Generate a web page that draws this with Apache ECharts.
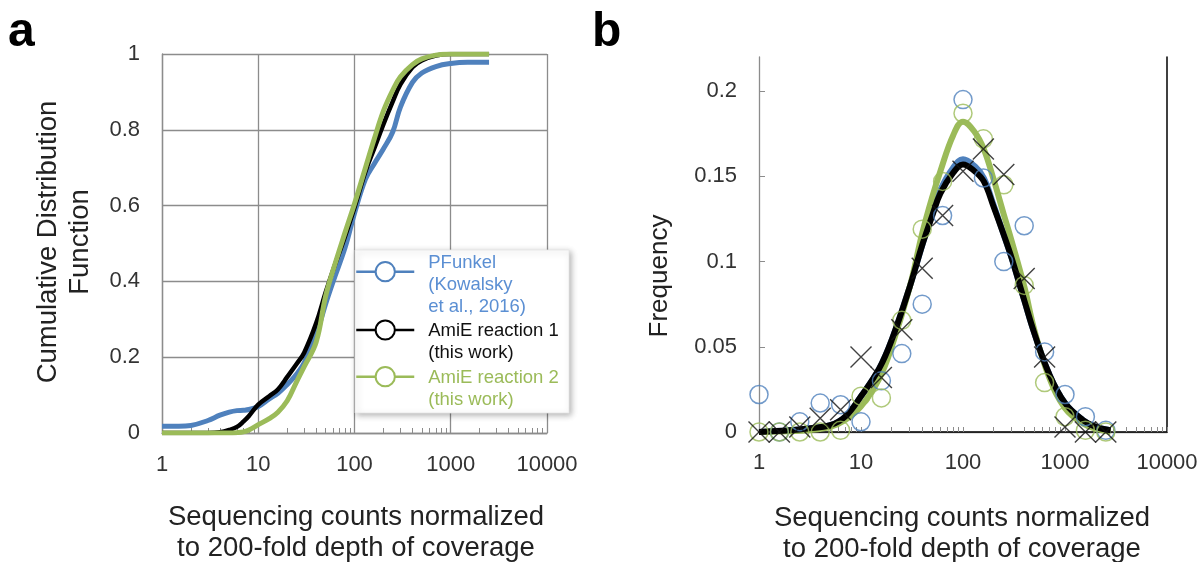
<!DOCTYPE html>
<html><head><meta charset="utf-8">
<script src="https://cdn.jsdelivr.net/npm/echarts@6/dist/echarts.min.js"></script>
<style>html,body{margin:0;padding:0;background:#fff}#c{width:1201px;height:562px}</style>
</head><body><div id="c"></div>
<script>
const FONT = "'Liberation Sans', Arial, Helvetica, sans-serif";

// Panel a: cumulative distribution curves
const cdfX        = [1, 1.5, 2, 3, 4, 5, 6, 7, 8, 10, 13, 16, 20, 25, 30, 40, 50, 60, 80, 100, 130, 160, 200, 250, 300, 400, 500, 700, 1000, 1500, 2500];
const cdfPFunkel  = [0.018, 0.018, 0.02, 0.033, 0.047, 0.055, 0.059, 0.06, 0.062, 0.07, 0.09, 0.105, 0.128, 0.155, 0.185, 0.26, 0.34, 0.4, 0.49, 0.58, 0.67, 0.71, 0.75, 0.795, 0.86, 0.925, 0.95, 0.967, 0.975, 0.978, 0.978];
const cdfAmiE1    = [0, 0, 0, 0, 0.002, 0.008, 0.016, 0.03, 0.045, 0.075, 0.097, 0.115, 0.148, 0.182, 0.212, 0.29, 0.37, 0.43, 0.52, 0.595, 0.69, 0.75, 0.815, 0.875, 0.92, 0.965, 0.983, 0.996, 1, 1, 1];
const cdfAmiE2    = [0, 0, 0, 0, 0, 0, 0.001, 0.003, 0.008, 0.022, 0.038, 0.055, 0.085, 0.135, 0.175, 0.24, 0.36, 0.43, 0.53, 0.605, 0.70, 0.775, 0.85, 0.905, 0.94, 0.972, 0.987, 0.997, 1, 1, 1];

// Panel b: frequency histograms (markers) and fitted curves
const binX        = [1, 1.585, 2.512, 3.981, 6.31, 10, 15.85, 25.12, 39.81, 63.1, 100, 158.5, 251.2, 398.1, 631, 1000, 1585, 2512];
const freqPFunkel = [0.022, 0, 0.006, 0.017, 0.016, 0.006, 0.030, 0.046, 0.075, 0.127, 0.195, 0.149, 0.100, 0.121, 0.047, 0.022, 0.009, 0.001];
const freqAmiE1   = [0, 0, 0.003, 0.008, 0.013, 0.044, 0.032, 0.060, 0.096, 0.127, 0.153, 0.166, 0.151, 0.090, 0.044, 0.003, 0, 0];
const freqAmiE2   = [0, 0, 0, 0, 0.001, 0.021, 0.020, 0.0655, 0.119, 0.147, 0.187, 0.172, 0.145, 0.086, 0.029, 0.009, 0.001, 0];

const fitX        = [1, 2, 3, 5, 7, 10, 15, 20, 30, 40, 50, 60, 80, 100, 130, 160, 200, 250, 300, 400, 500, 700, 1000, 1500, 2000, 2800];
const fitPFunkel  = [0, 0.001, 0.002, 0.004, 0.009, 0.021, 0.037, 0.054, 0.085, 0.11, 0.128, 0.142, 0.155, 0.160, 0.156, 0.149, 0.133, 0.116, 0.102, 0.077, 0.058, 0.034, 0.017, 0.007, 0.003, 0.001];
const fitAmiE1    = [0, 0.001, 0.002, 0.004, 0.009, 0.021, 0.037, 0.054, 0.085, 0.11, 0.127, 0.140, 0.152, 0.157, 0.153, 0.147, 0.132, 0.116, 0.102, 0.077, 0.058, 0.034, 0.017, 0.007, 0.003, 0.001];
const fitAmiE2    = [0, 0.0005, 0.001, 0.003, 0.007, 0.015, 0.031, 0.050, 0.085, 0.117, 0.138, 0.153, 0.174, 0.182, 0.176, 0.166, 0.148, 0.128, 0.112, 0.085, 0.060, 0.032, 0.014, 0.005, 0.002, 0];

// tick marks on the log axes
const logTicks = [1,2,3,4,5,6,7,8,9,10,20,30,40,50,60,70,80,90,100,200,300,400,500,600,700,800,900,1000,2000,3000,4000,5000,6000,7000,8000,9000,10000];

const NAME_P = 'PFunkel\n(Kowalsky\net al., 2016)';
const NAME_1 = 'AmiE reaction 1\n(this work)';
const NAME_2 = 'AmiE reaction 2\n(this work)';
const BLUE = '#4f81bd', BLACK = '#000000', GREEN = '#9bbb59';
const GRIDC = '#8c8c8c';

const pairs = (xs, ys) => xs.map((x, i) => [x, ys[i]]);
const labelStyle = {fontSize: 22, color: '#333', fontFamily: FONT};

const chart = echarts.init(document.getElementById('c'), null, {renderer: 'canvas'});

function legendFor(name, color, top, gap) {
  return {
    data: [{name: name, textStyle: {color: color}}],
    left: 355, top: top, padding: 0, orient: 'vertical',
    itemWidth: 58, itemHeight: 24,
    lineStyle: {width: 2.5},
    formatter: n => '{g| }\n' + n,
    textStyle: {fontSize: 18.5, lineHeight: 22, fontFamily: FONT, padding: [0, 0, 0, 9],
      rich: {g: {fontSize: 2, lineHeight: gap}}},
    selectedMode: false
  };
}

chart.setOption({
  animation: false,
  backgroundColor: '#fff',
  grid: [
    {left: 162, top: 54, width: 385, height: 379},
    {left: 759, top: 57, width: 408, height: 375}
  ],
  xAxis: [
    {gridIndex: 0, type: 'log', logBase: 10, min: 1, max: 10000,
      axisLine: {show: true, lineStyle: {color: GRIDC, width: 1.3}},
      axisTick: {show: false},
      splitLine: {show: true, lineStyle: {color: GRIDC, width: 1.3}},
      axisLabel: Object.assign({margin: 21, formatter: v => String(Math.round(v))}, labelStyle)},
    {gridIndex: 1, type: 'log', logBase: 10, min: 1, max: 10000,
      axisLine: {show: true, lineStyle: {color: GRIDC, width: 1.3}},
      axisTick: {show: true, inside: true, length: 5, customValues: logTicks, lineStyle: {color: GRIDC, width: 1}},
      splitLine: {show: false},
      axisLabel: Object.assign({margin: 20, formatter: v => String(Math.round(v))}, labelStyle)},
    {gridIndex: 1, type: 'value', position: 'top', min: 0, max: 1,
      axisLine: {show: true, lineStyle: {color: '#000', width: 1.5}},
      axisTick: {show: false}, axisLabel: {show: false}, splitLine: {show: false}},
    {gridIndex: 0, type: 'log', logBase: 10, min: 1, max: 10000, position: 'bottom',
      axisLine: {show: false},
      axisTick: {show: true, inside: true, length: 5, customValues: logTicks, lineStyle: {color: GRIDC, width: 1}},
      axisLabel: {show: false}, splitLine: {show: false}}
  ],
  yAxis: [
    {gridIndex: 0, type: 'value', min: 0, max: 1, interval: 0.2,
      axisLine: {show: true, lineStyle: {color: GRIDC, width: 1.3}},
      axisTick: {show: false},
      splitLine: {show: true, lineStyle: {color: GRIDC, width: 1.3}},
      axisLabel: Object.assign({margin: 22}, labelStyle)},
    {gridIndex: 1, type: 'value', min: 0, max: 0.22, interval: 0.05,
      axisLine: {show: true, lineStyle: {color: GRIDC, width: 1.3}},
      axisTick: {show: true, inside: true, length: 6, lineStyle: {color: GRIDC}},
      splitLine: {show: false},
      axisLabel: Object.assign({margin: 22, showMaxLabel: false}, labelStyle)},
    {gridIndex: 1, type: 'value', position: 'right', min: 0, max: 1,
      axisLine: {show: true, lineStyle: {color: '#000', width: 1.5}},
      axisTick: {show: false}, axisLabel: {show: false}, splitLine: {show: false}}
  ],
  legend: [
    legendFor(NAME_P, '#5b8fd3', 225.7, 26),
    legendFor(NAME_1, '#111', 296.5, 23),
    legendFor(NAME_2, GREEN, 342.2, 25)
  ],
  graphic: [
    {type: 'rect', z: 3, shape: {x: 355, y: 250, width: 214, height: 163},
      style: {fill: '#fff', stroke: '#e4e4e4', lineWidth: 0.8, shadowBlur: 6, shadowOffsetX: 2, shadowOffsetY: 2, shadowColor: 'rgba(0,0,0,0.3)'}},
    {type: 'text', z: 10, x: 8, y: 33, style: {text: 'a', font: 'bold 48px ' + FONT, fill: '#000', verticalAlign: 'middle'}},
    {type: 'text', z: 10, x: 592, y: 33, style: {text: 'b', font: 'bold 48px ' + FONT, fill: '#000', verticalAlign: 'middle'}},
    {type: 'text', z: 10, x: 64, y: 242, rotation: Math.PI / 2,
      style: {text: 'Cumulative Distribution\nFunction', font: '27.5px ' + FONT, lineHeight: 32, fill: '#222', align: 'center', verticalAlign: 'middle'}},
    {type: 'text', z: 10, x: 660, y: 276, rotation: Math.PI / 2,
      style: {text: 'Frequency', font: '26px ' + FONT, fill: '#222', align: 'center', verticalAlign: 'middle'}},
    {type: 'text', z: 10, x: 356, y: 533,
      style: {text: 'Sequencing counts normalized\nto 200-fold depth of coverage', font: '27.5px ' + FONT, lineHeight: 31, fill: '#222', align: 'center', verticalAlign: 'middle'}},
    {type: 'text', z: 10, x: 962, y: 534,
      style: {text: 'Sequencing counts normalized\nto 200-fold depth of coverage', font: '27.5px ' + FONT, lineHeight: 31, fill: '#222', align: 'center', verticalAlign: 'middle'}}
  ],
  series: [
    {name: NAME_P, type: 'line', xAxisIndex: 0, yAxisIndex: 0, data: pairs(cdfX, cdfPFunkel), smooth: 0.4,
      showSymbol: false, symbol: 'emptyCircle', symbolSize: 19, lineStyle: {color: BLUE, width: 5}, itemStyle: {color: BLUE, borderWidth: 2}},
    {name: NAME_1, type: 'line', xAxisIndex: 0, yAxisIndex: 0, data: pairs(cdfX, cdfAmiE1), smooth: 0.4,
      showSymbol: false, symbol: 'emptyCircle', symbolSize: 19, lineStyle: {color: BLACK, width: 4.5}, itemStyle: {color: BLACK, borderWidth: 2}},
    {name: NAME_2, type: 'line', xAxisIndex: 0, yAxisIndex: 0, data: pairs(cdfX, cdfAmiE2), smooth: 0.4,
      showSymbol: false, symbol: 'emptyCircle', symbolSize: 19, lineStyle: {color: GREEN, width: 5}, itemStyle: {color: GREEN, borderWidth: 2}},

    {name: 'fit PFunkel', type: 'line', xAxisIndex: 1, yAxisIndex: 1, data: pairs(fitX, fitPFunkel), smooth: 0.4,
      showSymbol: false, lineStyle: {color: BLUE, width: 6}, z: 2},
    {name: 'fit AmiE 2', type: 'line', xAxisIndex: 1, yAxisIndex: 1, data: pairs(fitX, fitAmiE2), smooth: 0.4,
      showSymbol: false, lineStyle: {color: GREEN, width: 6}, z: 2},
    {name: 'fit AmiE 1', type: 'line', xAxisIndex: 1, yAxisIndex: 1, data: pairs(fitX, fitAmiE1), smooth: 0.4,
      showSymbol: false, lineStyle: {color: BLACK, width: 6}, z: 2},

    {name: 'freq PFunkel', type: 'scatter', xAxisIndex: 1, yAxisIndex: 1, data: pairs(binX, freqPFunkel),
      symbol: 'circle', symbolSize: 18, itemStyle: {color: 'rgba(0,0,0,0)', borderColor: BLUE, borderWidth: 1.5}, z: 5},
    {name: 'freq AmiE 2', type: 'scatter', xAxisIndex: 1, yAxisIndex: 1, data: pairs(binX, freqAmiE2),
      symbol: 'circle', symbolSize: 18, itemStyle: {color: 'rgba(0,0,0,0)', borderColor: GREEN, borderWidth: 1.5}, z: 5},
    {name: 'freq AmiE 1', type: 'scatter', xAxisIndex: 1, yAxisIndex: 1, data: pairs(binX, freqAmiE1),
      symbol: 'path://M0,0L10,10M10,0L0,10', symbolSize: 21, itemStyle: {color: 'rgba(0,0,0,0)', borderColor: '#111', borderWidth: 1.4}, z: 6}
  ]
});
</script></body></html>
